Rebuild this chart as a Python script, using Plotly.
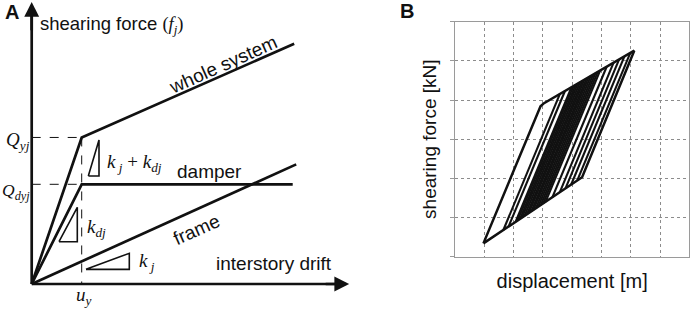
import plotly.graph_objects as go

# ---------------- Panel A data (schematic, units: x in u_y, y in Q_dyj) -------------
whole_x = [0, 1.0, 5.25]
whole_y = [0, 1.47, 2.41]
damper_x = [0, 1.0, 5.22]
damper_y = [0, 1.0, 1.0]
frame_x = [0, 5.29]
frame_y = [0, 1.20]
Q_yj = 1.47
Q_dyj = 1.0
u_y = 1.0
tri_kjkdj_x = [1.132, 1.346, 1.346, 1.132]
tri_kjkdj_y = [1.083, 1.083, 1.444, 1.083]
tri_kdj_x = [0.546, 0.912, 0.912, 0.546]
tri_kdj_y = [0.424, 0.424, 0.769, 0.424]
tri_kj_x = [1.086, 1.952, 1.952, 1.086]
tri_kj_y = [0.147, 0.147, 0.308, 0.147]
axis_top = 2.83
axis_right = 6.35

# ---------------- Panel B data (hysteresis) ----------------
outer_x = [0.97, 2.80, 2.92, 3.04, 6.12, 4.34, 0.97]
outer_y = [0.34, 3.63, 3.84, 3.92, 5.26, 2.03, 0.34]
inner_lo_x = [1.652, 1.832, 2.067, 2.136, 2.219, 2.288, 2.372, 2.455, 2.524, 2.607, 2.676,
              2.759, 2.842, 2.925, 3.008, 3.092, 3.327, 3.576, 3.770, 3.964, 4.172]
inner_lo_y = [0.682, 0.772, 0.889, 0.923, 0.964, 0.998, 1.042, 1.083, 1.117, 1.159, 1.193,
              1.234, 1.276, 1.317, 1.358, 1.402, 1.519, 1.643, 1.740, 1.837, 1.942]
inner_hi_x = [3.582, 3.754, 3.978, 4.044, 4.123, 4.189, 4.268, 4.347, 4.413, 4.492, 4.558,
              4.637, 4.716, 4.796, 4.875, 4.954, 5.178, 5.415, 5.600, 5.785, 5.982]
inner_hi_y = [4.156, 4.231, 4.328, 4.357, 4.391, 4.420, 4.454, 4.489, 4.517, 4.552, 4.580,
              4.615, 4.649, 4.685, 4.719, 4.753, 4.850, 4.953, 5.034, 5.115, 5.200]

SANS = "Arial, Liberation Sans, sans-serif"
SERIF = "Times New Roman, Liberation Serif, serif"
BLK = "#111111"

fig = go.Figure()

def lineA(x, y, w=2.7, dash=None):
    fig.add_trace(go.Scatter(x=x, y=y, mode="lines", xaxis="x", yaxis="y",
                             line=dict(color=BLK, width=w, dash=dash),
                             hoverinfo="skip", showlegend=False))

lineA(whole_x, whole_y)
lineA(damper_x, damper_y)
lineA(frame_x, frame_y)
lineA([0, u_y], [Q_yj, Q_yj], 1, "dash")
lineA([0, u_y], [Q_dyj, Q_dyj], 1, "dash")
lineA([u_y, u_y], [Q_yj, 0], 1, "dash")
lineA(tri_kjkdj_x, tri_kjkdj_y, 1.6)
lineA(tri_kdj_x, tri_kdj_y, 1.6)
lineA(tri_kj_x, tri_kj_y, 1.6)
lineA([0, 0], [0, axis_top - 0.05], 2.7)
lineA([0, axis_right - 0.1], [0, 0], 2.7)

# Panel B
seg_x, seg_y = [], []
for a, b, c, d in zip(inner_lo_x, inner_lo_y, inner_hi_x, inner_hi_y):
    seg_x += [a, c, None]
    seg_y += [b, d, None]
fig.add_trace(go.Scatter(x=seg_x, y=seg_y, mode="lines", xaxis="x2", yaxis="y2",
                         line=dict(color=BLK, width=2.1), hoverinfo="skip", showlegend=False))
fig.add_trace(go.Scatter(x=outer_x, y=outer_y, mode="lines", xaxis="x2", yaxis="y2",
                         line=dict(color=BLK, width=2.5), hoverinfo="skip", showlegend=False))

annA = dict(xref="x", yref="y", showarrow=False)
ann = [
    # axis arrows
    dict(xref="x", yref="y", axref="x", ayref="y", x=0, y=axis_top, ax=0, ay=axis_top - 0.3,
         showarrow=True, arrowhead=2, arrowsize=1.1, arrowwidth=2.7, arrowcolor=BLK, text=""),
    dict(xref="x", yref="y", axref="x", ayref="y", x=axis_right, y=0, ax=axis_right - 0.5, ay=0,
         showarrow=True, arrowhead=2, arrowsize=1.1, arrowwidth=2.7, arrowcolor=BLK, text=""),
    dict(annA, x=-0.4, y=2.73, text="<b>A</b>", font=dict(family=SANS, size=20, color=BLK)),
    dict(annA, x=0.12, y=2.6, xanchor="left",
         text="shearing force <span style='font-family:" + SERIF + "'>(<i>f</i><sub><i>j</i></sub>)</span>",
         font=dict(family=SANS, size=18.5, color=BLK)),
    dict(annA, x=-0.56, y=Q_yj - 0.04, xanchor="left", text="<i>Q</i><sub><i>yj</i></sub>",
         font=dict(family=SERIF, size=19, color=BLK)),
    dict(annA, x=-0.63, y=Q_dyj - 0.07, xanchor="left", text="<i>Q</i><sub><i>dyj</i></sub>",
         font=dict(family=SERIF, size=17.5, color=BLK)),
    dict(annA, x=1.05, y=-0.12, text="<i>u</i><sub><i>y</i></sub>",
         font=dict(family=SERIF, size=19, color=BLK)),
    dict(annA, x=2.06, y=1.21, text="<i>k</i><sub> <i>j</i></sub> + <i>k</i><sub><i>dj</i></sub>",
         font=dict(family=SERIF, size=19, color=BLK)),
    dict(annA, x=1.3, y=0.56, text="<i>k</i><sub><i>dj</i></sub>",
         font=dict(family=SERIF, size=19, color=BLK)),
    dict(annA, x=2.31, y=0.22, text="<i>k</i><sub> <i>j</i></sub>",
         font=dict(family=SERIF, size=19, color=BLK)),
    dict(annA, x=3.83, y=2.2, text="whole system", textangle=-24,
         font=dict(family=SANS, size=19, color=BLK)),
    dict(annA, x=3.55, y=1.13, text="damper", font=dict(family=SANS, size=19, color=BLK)),
    dict(annA, x=3.3, y=0.55, text="frame", textangle=-24,
         font=dict(family=SANS, size=19, color=BLK)),
    dict(annA, x=4.85, y=0.21, text="interstory drift", font=dict(family=SANS, size=19, color=BLK)),
    # panel B
    dict(xref="paper", yref="paper", x=406.5 / 692, y=1 - 11 / 309, yanchor="middle",
         text="<b>B</b>", showarrow=False, font=dict(family=SANS, size=20, color=BLK)),
]

fig.update_layout(
    width=692, height=309, autosize=False,
    margin=dict(l=0, r=0, t=0, b=0),
    paper_bgcolor="white", plot_bgcolor="white",
    xaxis=dict(domain=[0, 360 / 692], range=[-0.634, 6.566], visible=False),
    yaxis=dict(domain=[0, 1], range=[-0.251, 2.849], visible=False),
    xaxis2=dict(domain=[455 / 692, 689.3 / 692], range=[0, 8], anchor="y2",
                showgrid=True, gridcolor="#8c8c8c", griddash="dot", gridwidth=1, dtick=1,
                showline=True, linecolor="#9a9a9a", linewidth=1, mirror=True,
                zeroline=False, showticklabels=False, ticks="",
                title=dict(text="displacement [m]", standoff=17,
                           font=dict(family=SANS, size=20, color=BLK))),
    yaxis2=dict(domain=[(309 - 256.7) / 309, (309 - 21.7) / 309], range=[0, 6], anchor="x2",
                showgrid=True, gridcolor="#8c8c8c", griddash="dot", gridwidth=1, dtick=1,
                showline=True, linecolor="#9a9a9a", linewidth=1, mirror=True,
                zeroline=False, showticklabels=False, ticks="outside", ticklen=4,
                tickcolor="#9a9a9a",
                title=dict(text="shearing force [kN]", standoff=8,
                           font=dict(family=SANS, size=19, color=BLK))),
    annotations=ann,
)

fig.write_html("out.html", config={"displayModeBar": False},
               post_script="document.body.style.margin='0';document.body.style.overflow='hidden';")
